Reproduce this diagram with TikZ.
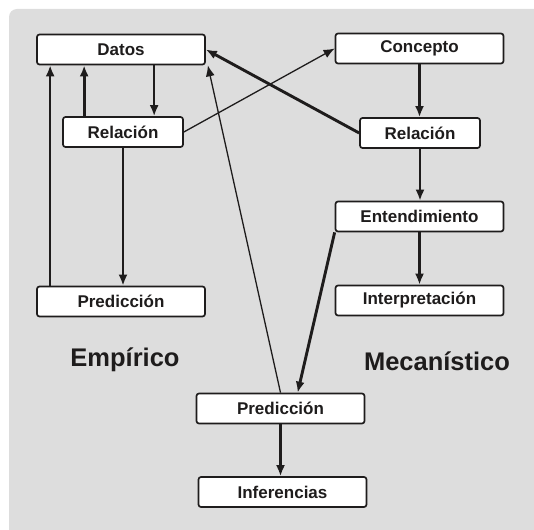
\documentclass[tikz,border=0pt]{standalone}
\usepackage{fontspec}
\setmainfont{Liberation Sans}
\usetikzlibrary{arrows.meta,calc}
\definecolor{bg}{RGB}{221,221,221}
\definecolor{ink}{RGB}{30,28,28}
\tikzset{
  box/.style={draw=ink, fill=white, line width=1.7pt, rounded corners=2.5pt,
    minimum width=168pt, minimum height=30pt, inner sep=0pt,
    font=\fontsize{17}{18}\selectfont\bfseries, text=ink},
  smallbox/.style={box, minimum width=120pt},
  big/.style={font=\fontsize{25.5}{28}\selectfont\bfseries, text=ink, inner sep=0pt},
  conn/.style={draw=ink, -{Latex[length=11pt,width=9pt]}},
  thin/.style={conn, line width=1.3pt},
  mid/.style={conn, line width=2.1pt},
  thick/.style={conn, line width=2.9pt}
}
\begin{document}
\begin{tikzpicture}[x=1pt,y=-1pt]
\path[use as bounding box] (0,0) rectangle (534,529);
\clip (0,0) rectangle (534,529);
\fill[bg, rounded corners=8pt] (9,9) rectangle (560,560);

\node[box] (datos) at (121,49.5) {Datos};
\node[smallbox] (relL) at (123,132) {Relación};
\node[box] (predL) at (121,301.5) {Predicción};
\node[box] (concepto) at (419.5,48.5) {Concepto};
\node[smallbox] (relR) at (420,133) {Relación};
\node[box] (entend) at (419.5,216.5) {Entendimiento};
\node[box] (interp) at (419.5,300.5) {Interpretación};
\node[box] (predB) at (280.5,408.5) {Predicción};
\node[box] (infer) at (282.5,492) {Inferencias};

\node[big] (emp) at (125,360) {Empírico};
\node[big] (mec) at (437,361) {Mecanístico};

\draw[mid] ([xshift=14pt]predL.north west) -- ([xshift=14pt]datos.south west);
\draw[thick] ([xshift=22pt]relL.north west) -- ([xshift=48pt]datos.south west);
\draw[mid] ([xshift=118pt]datos.south west) -- ([xshift=92pt]relL.north west);
\draw[thick] (relL.south) -- (relL.south |- predL.north);
\draw[thin] (relL.east) -- (concepto.west);
\draw[thick] (relR.west) -- (datos.east);
\draw[thick] (concepto.south) -- (concepto.south |- relR.north);
\draw[mid] (relR.south) -- (relR.south |- entend.north);
\draw[mid] (entend.south) -- (entend.south |- interp.north);
\draw[thick] (entend.south west) -- ([xshift=102pt]predB.north west);
\draw[thin] (predB.north) -- ([xshift=2pt]datos.south east);
\draw[mid] (predB.south) -- (predB.south |- infer.north);
\end{tikzpicture}
\end{document}
